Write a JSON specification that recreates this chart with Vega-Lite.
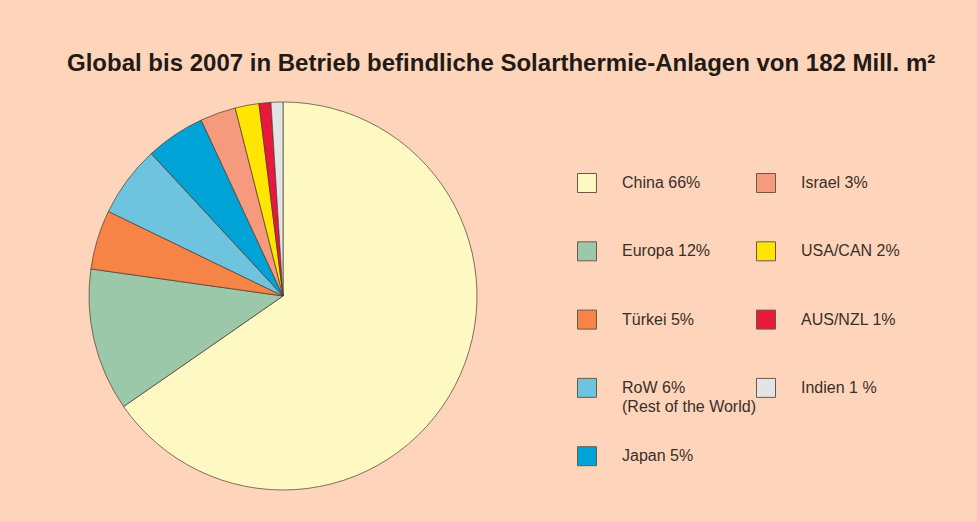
{
  "$schema": "https://vega.github.io/schema/vega-lite/v6.json",
  "autosize": {"type": "none"},
  "width": 388,
  "height": 388,
  "padding": {"left": 89, "top": 102, "right": 500, "bottom": 32},
  "background": "#FED5BA",
  "title": {
    "text": "Global bis 2007 in Betrieb befindliche Solarthermie-Anlagen von 182 Mill. m²",
    "anchor": "start",
    "frame": "group",
    "dx": -22,
    "offset": 6,
    "baseline": "alphabetic",
    "font": "Liberation Sans",
    "fontSize": 24,
    "fontWeight": "bold",
    "color": "#231A15"
  },
  "data": {
    "values": [
      {"cat": "China 66%", "v": 66, "idx": 1},
      {"cat": "Europa 12%", "v": 12, "idx": 2},
      {"cat": "Türkei 5%", "v": 5, "idx": 3},
      {"cat": "RoW 6%", "v": 6, "idx": 4},
      {"cat": "Japan 5%", "v": 5, "idx": 5},
      {"cat": "Israel 3%", "v": 3, "idx": 6},
      {"cat": "USA/CAN 2%", "v": 2, "idx": 7},
      {"cat": "AUS/NZL 1%", "v": 1, "idx": 8},
      {"cat": "Indien 1 %", "v": 1, "idx": 9}
    ]
  },
  "mark": {"type": "arc", "stroke": "#4A3A30", "strokeWidth": 0.7},
  "encoding": {
    "theta": {"field": "v", "type": "quantitative", "stack": true},
    "order": {"field": "idx", "type": "quantitative"},
    "color": {
      "field": "cat",
      "type": "nominal",
      "scale": {
        "domain": ["China 66%", "Europa 12%", "Türkei 5%", "RoW 6%", "Japan 5%", "Israel 3%", "USA/CAN 2%", "AUS/NZL 1%", "Indien 1 %"],
        "range": ["#FEF9C3", "#9CC8AA", "#F58446", "#6EC3DF", "#00A3D6", "#F59A7C", "#FFE500", "#E8183D", "#E3E4E6"]
      },
      "legend": {
        "title": null,
        "orient": "none",
        "legendX": 488,
        "legendY": 71,
        "columns": 2,
        "gridAlign": "all",
        "columnPadding": -3,
        "rowPadding": 29.3,
        "padding": 0,
        "symbolType": "square",
        "symbolSize": 361,
        "symbolStrokeColor": "#6B5A4C",
        "symbolStrokeWidth": 1,
        "symbolOpacity": 1,
        "labelFont": "Liberation Sans",
        "labelFontSize": 16,
        "labelColor": "#3A2E28",
        "labelOffset": 25,
        "labelLimit": 220,
        "labelExpr": "datum.label == 'RoW 6%' ? ['RoW 6%', '(Rest of the World)'] : [datum.label, ' ']",
        "encode": {"labels": {"update": {"lineHeight": {"value": 19}}}}
      }
    }
  },
  "config": {"view": {"stroke": null}}
}
